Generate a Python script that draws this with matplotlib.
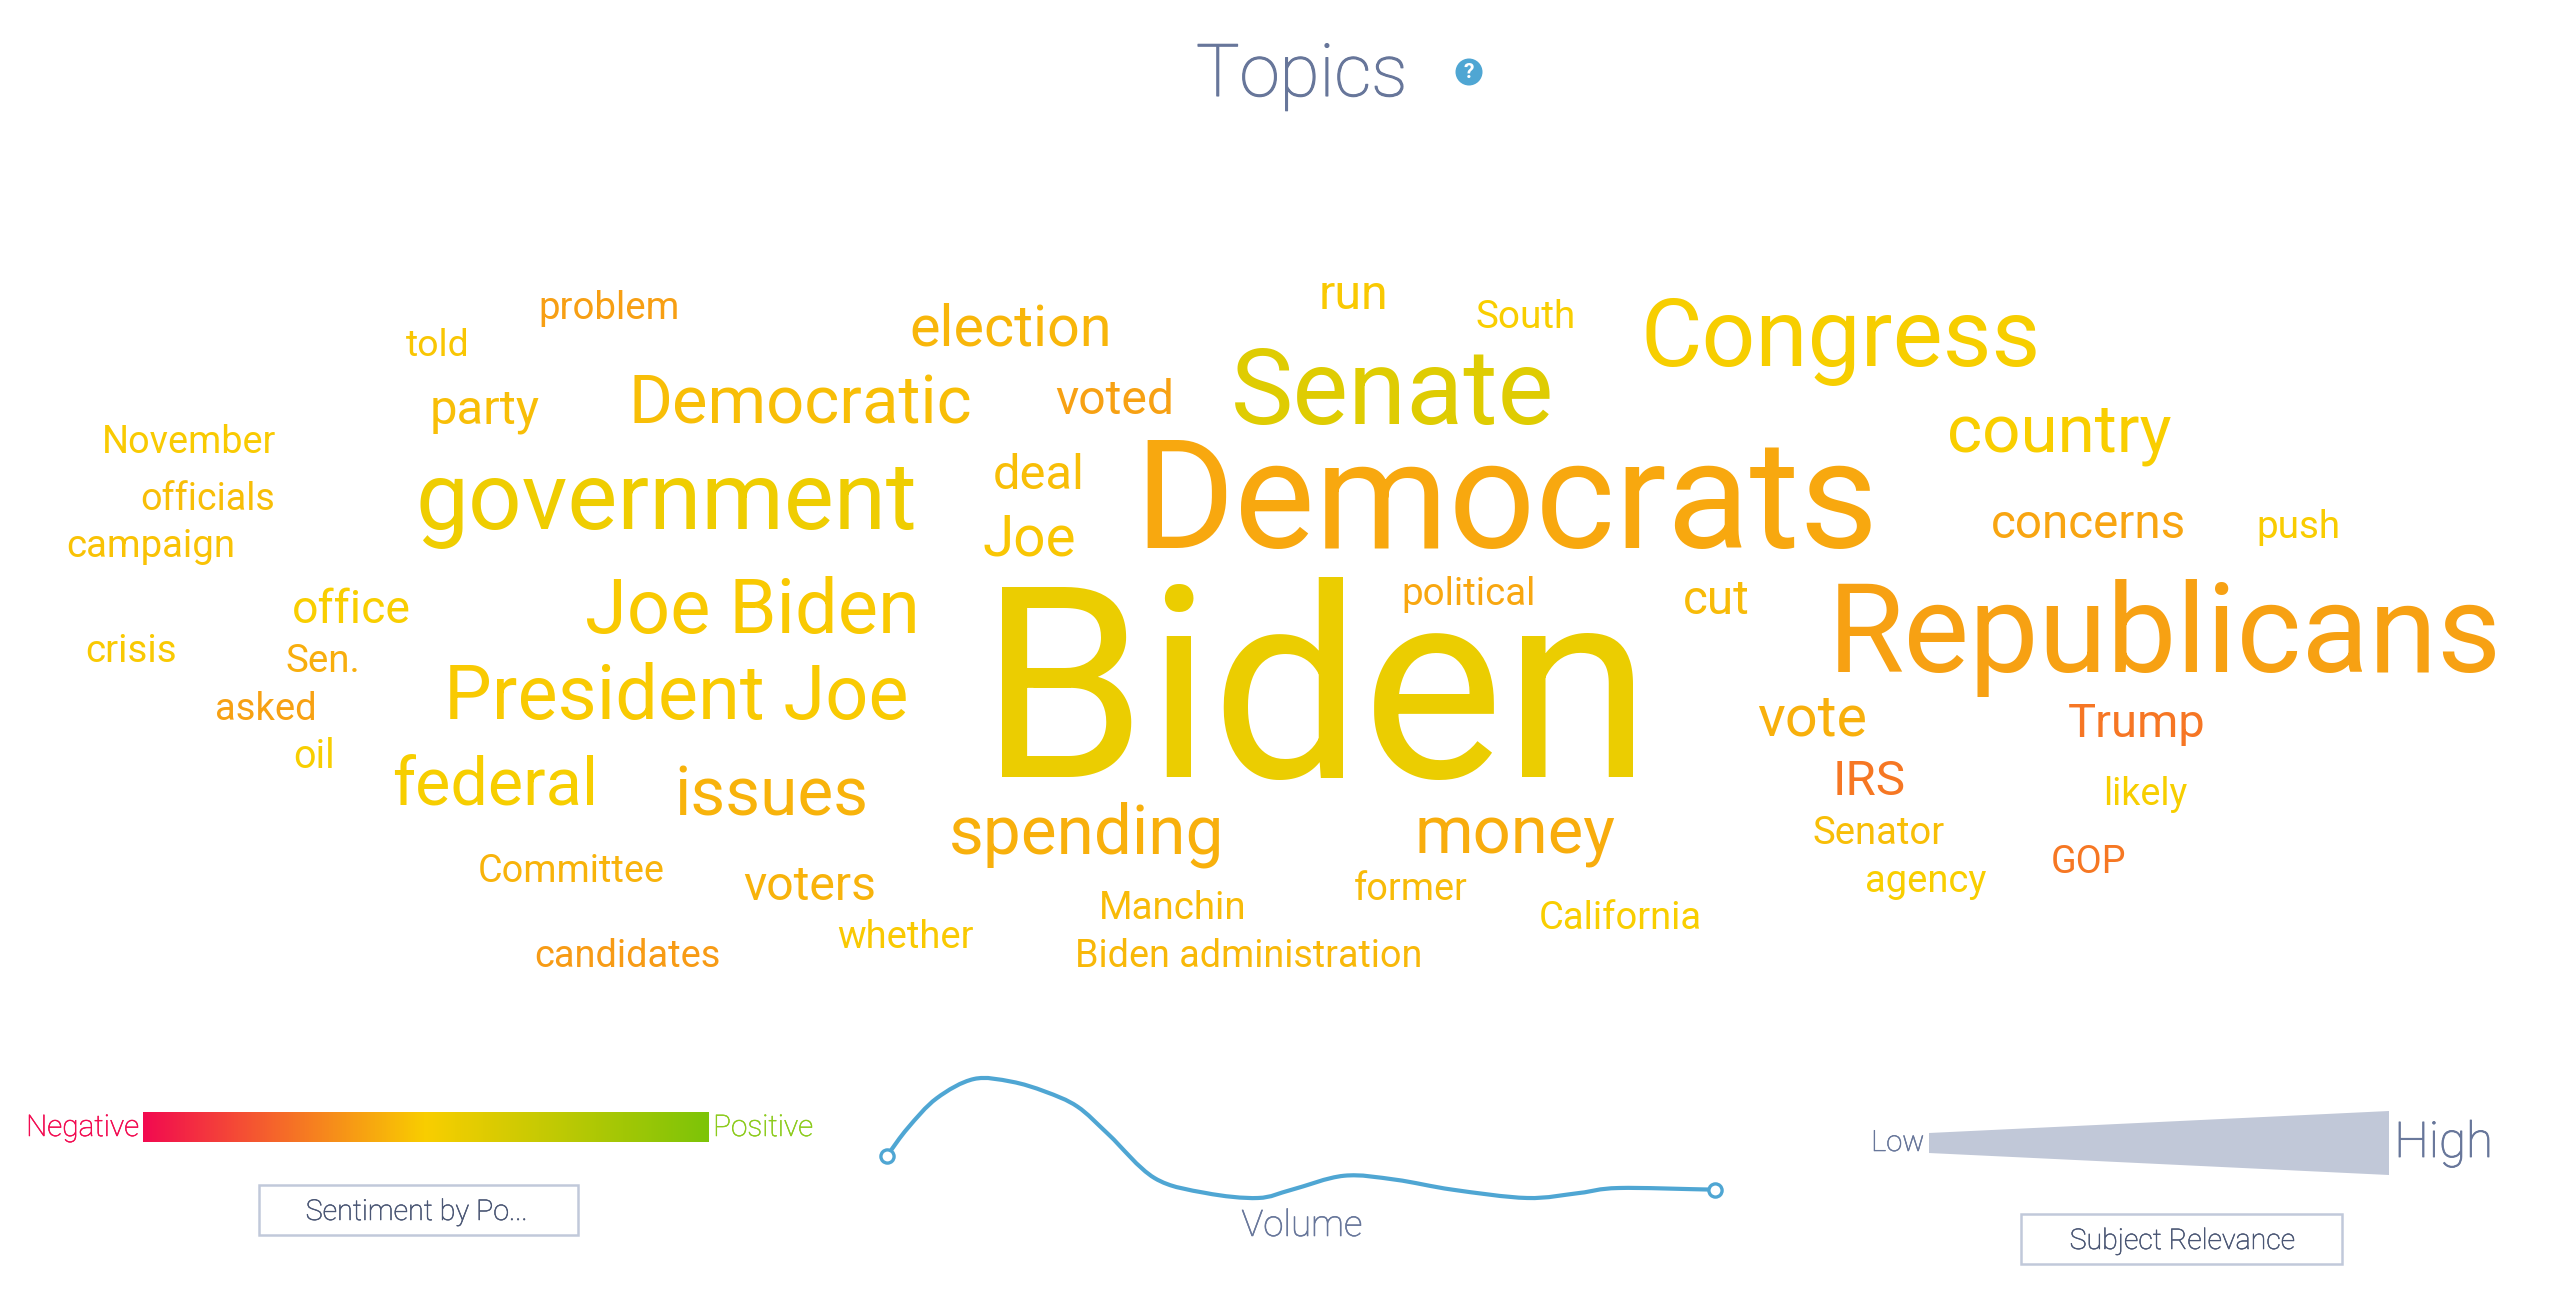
import matplotlib
matplotlib.use("Agg")
import matplotlib.pyplot as plt
import matplotlib.patheffects as pe
import numpy as np
from matplotlib.colors import LinearSegmentedColormap, Normalize
from matplotlib.font_manager import FontProperties
from matplotlib.patches import Circle, PathPatch, Polygon, Rectangle
from matplotlib.path import Path
from matplotlib.textpath import TextPath

W, H = 2555, 1304

# Topic words and their sentiment (-1 negative, +1 positive)
words = [
    "Biden", "Democrats", "Republicans", "Senate", "Congress", "government",
    "Joe Biden", "President Joe", "federal", "issues", "spending", "money",
    "Democratic", "election", "country", "concerns", "party", "voted",
    "deal", "Joe", "run", "South", "problem", "told",
    "November", "officials", "campaign", "office", "crisis", "Sen.",
    "asked", "oil", "political", "cut", "push", "vote",
    "Trump", "IRS", "likely", "Senator", "GOP", "agency",
    "California", "former", "Manchin", "Biden administration", "whether",
    "voters", "candidates", "Committee",
]
sentiment = [
    0.11, -0.19, -0.23, 0.21, 0.02, 0.08,
    -0.03, -0.02, 0.02, -0.14, -0.15, -0.17,
    -0.08, -0.12, 0.0, -0.21, -0.08, -0.23,
    -0.08, -0.04, -0.03, 0.0, -0.24, -0.04,
    -0.02, -0.08, -0.06, 0.0, -0.03, -0.16,
    -0.23, 0.01, -0.2, -0.1, -0.01, -0.15,
    -0.45, -0.44, 0.02, -0.08, -0.44, 0.0,
    0.0, -0.1, -0.1, -0.11, -0.03,
    -0.14, -0.26, -0.14,
]

# Volume line, time in percent of the span and value in percent of the range
volume_t = [0, 2.5, 6, 10.5, 15, 19.1, 23, 26.8, 32.3, 38.5, 44.8, 48.9, 55.2,
            61.4, 68.3, 77.3, 83.6, 88.4, 100]
volume_v = [35.5, 58.7, 83.8, 100, 97.8, 89.4, 76.8, 53.1, 16.8, 4.2, 0, 7, 18.7,
            15.4, 7, 0, 4.2, 8.4, 7]

# Where each word sits in the cloud: left and right ink edge, baseline (pixels)
word_left = [1002, 1147, 1838, 1235, 1646, 420,
             587, 450, 394, 679, 952, 1419,
             634, 912, 1950, 1993, 433, 1056,
             995, 984, 1322, 1477, 541, 406,
             105, 142, 68, 294, 87, 287,
             217, 295, 1404, 1685, 2259, 1758,
             2069, 1837, 2106, 1814, 2053, 1867,
             1541, 1355, 1102, 1078, 838,
             744, 536, 480]
word_right = [1633, 1871, 2496, 1550, 2036, 914,
              915, 906, 593, 865, 1220, 1615,
              970, 1108, 2171, 2184, 539, 1171,
              1081, 1074, 1385, 1573, 677, 467,
              276, 273, 233, 409, 175, 357,
              314, 332, 1533, 1748, 2338, 1865,
              2203, 1904, 2187, 1944, 2125, 1986,
              1700, 1467, 1244, 1420, 973,
              874, 719, 663]
word_base = [777, 548, 672, 424, 366, 529,
             633, 719, 806, 815, 853, 853,
             424, 346, 452, 538, 423, 414,
             489, 555, 309, 328, 319, 356,
             453, 510, 557, 623, 662, 672,
             720, 768, 605, 614, 538, 736,
             737, 795, 805, 844, 873, 892,
             929, 900, 919, 967, 948,
             900, 967, 882]

plt.rcParams["font.family"] = ["Roboto", "DejaVu Sans"]

sent_cmap = LinearSegmentedColormap.from_list("sent", ["#F20A50", "#F9CE00", "#7DC408"])
sent_norm = Normalize(-1, 1)

fig = plt.figure(figsize=(W / 100, H / 100), dpi=100, facecolor="white")
ax = fig.add_axes([0, 0, 1, 1])
ax.set_xlim(0, W)
ax.set_ylim(H, 0)
ax.axis("off")


# Put a text so that its ink runs from left to right on the given baseline
def place(text, left, right, base, color, weight="normal", stroke=0):
    fp = FontProperties(family="Roboto", weight=weight)
    box = TextPath((0, 0), text, size=100, prop=fp).get_extents()
    em = 100 * (right - left) / box.width
    t = ax.text(left - box.x0 * em / 100, base, text, color=color, fontproperties=fp,
                fontsize=em * 72 / 100, ha="left", va="baseline", zorder=3)
    if stroke:
        # the light face comes out thinner than in the reference
        t.set_path_effects([pe.withStroke(linewidth=stroke, foreground=color)])


for word, s, left, right, base in zip(words, sentiment, word_left, word_right, word_base):
    place(word, left, right, base, sent_cmap(sent_norm(s)))

# Title and help icon
place("Topics", 1198, 1403, 96, "#67769A", "light", 0.8)
ax.add_patch(Circle((1469, 72), 13.5, color="#4FA6D3", lw=0))
ax.text(1469, 72.5, "?", color="white", fontsize=15, fontweight="bold",
        ha="center", va="center")

# Sentiment legend
grad = fig.add_axes([143 / W, 1 - 1142 / H, (709 - 143) / W, 30 / H])
grad.imshow(np.linspace(-1, 1, 512)[None, :], aspect="auto", cmap=sent_cmap, norm=sent_norm)
grad.axis("off")
place("Negative", 29, 138, 1136, "#F20A50", "light", 0.4)
place("Positive", 716, 812, 1136, "#8CCB1B", "light", 0.4)
ax.add_patch(Rectangle((259, 1185), 319, 50, fc="white", ec="#C1C9DA", lw=1.8))
place("Sentiment by Po...", 307, 525, 1220, "#4A5674", "light", 0.4)

# Volume line
vol = fig.add_axes([887 / W, 1 - 1198 / H, (1715 - 887) / W, (1198 - 1079) / H])
vol.set_xlim(0, 100)
vol.set_ylim(0, 100)
vol.axis("off")
pts = np.column_stack([volume_t, volume_v])
# tangents for a smooth curve through the read points
tan = np.gradient(pts, axis=0) / 3
verts = [pts[0]]
codes = [Path.MOVETO]
for i in range(len(pts) - 1):
    verts += [pts[i] + tan[i], pts[i + 1] - tan[i + 1], pts[i + 1]]
    codes += [Path.CURVE4] * 3
vol.add_patch(PathPatch(Path(verts, codes), fc="none", ec="#4FA6D3", lw=3.0, clip_on=False))
vol.plot([volume_t[0], volume_t[-1]], [volume_v[0], volume_v[-1]], "o", ms=9.5, mfc="white",
         mec="#4FA6D3", mew=2.4, clip_on=False, zorder=4)
place("Volume", 1242, 1361, 1236, "#67769A", "light", 0.4)

# Relevance legend
ax.add_patch(Polygon([(1929, 1133), (2389, 1111), (2389, 1175), (1929, 1153)],
                     closed=True, fc="#C1C8D8", ec="none"))
place("Low", 1874, 1923, 1151, "#67769A", "light", 0.4)
place("High", 2399, 2489, 1157, "#67769A", "light", 0.6)
ax.add_patch(Rectangle((2021, 1214), 321, 50, fc="white", ec="#C1C9DA", lw=1.8))
place("Subject Relevance", 2071, 2294, 1249, "#4A5674", "light", 0.4)

fig.savefig("out.png", dpi=100)
